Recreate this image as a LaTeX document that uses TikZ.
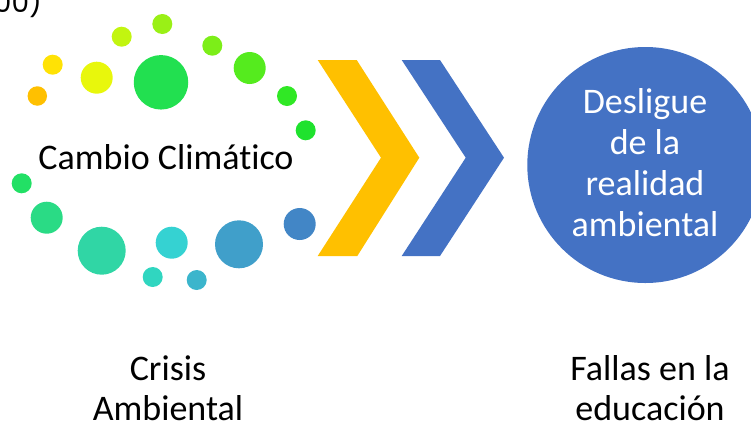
\documentclass[tikz,border=0pt]{standalone}
\usepackage{fontspec}
\setmainfont[Ligatures={NoCommon}]{Carlito}
\newfontfamily\numfont{Poppins}
\begin{document}
\begin{tikzpicture}[x=1pt,y=-1pt,
  dot/.style={circle,inner sep=0pt,draw=none},
  lbl/.style={font=\fontsize{36}{40}\selectfont,align=center,anchor=base,inner sep=0pt}]
\useasboundingbox (0,0) rectangle (751,429);
\clip (0,0) rectangle (751,429);
\definecolor{cA}{HTML}{FFC000}
\definecolor{cB}{HTML}{FFE205}
\definecolor{cC}{HTML}{E8F70C}
\definecolor{cD}{HTML}{C2F510}
\definecolor{cE}{HTML}{9AF016}
\definecolor{cF}{HTML}{22E050}
\definecolor{cG}{HTML}{7CEE18}
\definecolor{cH}{HTML}{55EB1E}
\definecolor{cI}{HTML}{30E825}
\definecolor{cJ}{HTML}{1FE22E}
\definecolor{cK}{HTML}{22E065}
\definecolor{cL}{HTML}{2ADB85}
\definecolor{cM}{HTML}{30D6A5}
\definecolor{cN}{HTML}{30D6C0}
\definecolor{cO}{HTML}{35D2D2}
\definecolor{cP}{HTML}{3BB5CC}
\definecolor{cQ}{HTML}{409FCA}
\definecolor{cR}{HTML}{4286C6}
\definecolor{chevY}{HTML}{FFC000}
\definecolor{chevB}{HTML}{4472C4}
% partial text at top-left
\node[font=\numfont\fontsize{28}{30}\selectfont,anchor=base east,inner sep=0pt] (cite) at (42,12) {00)};
% dots
\node[dot,fill=cA,minimum size=19.5pt] (d1) at (37.3,96) {};
\node[dot,fill=cB,minimum size=20pt] (d2) at (52.7,64.7) {};
\node[dot,fill=cC,minimum size=32pt] (d3) at (96.7,77.7) {};
\node[dot,fill=cD,minimum size=20pt] (d4) at (121.7,36.7) {};
\node[dot,fill=cE,minimum size=20pt] (d5) at (162.3,24) {};
\node[dot,fill=cF,minimum size=54.5pt] (d6) at (161,82.3) {};
\node[dot,fill=cG,minimum size=20pt] (d7) at (212.3,45.7) {};
\node[dot,fill=cH,minimum size=32pt] (d8) at (249.7,68) {};
\node[dot,fill=cI,minimum size=20pt] (d9) at (287,96) {};
\node[dot,fill=cJ,minimum size=20pt] (d10) at (305.7,130.3) {};
\node[dot,fill=cK,minimum size=20pt] (d11) at (21.7,183.3) {};
\node[dot,fill=cL,minimum size=32pt] (d12) at (46.7,217.7) {};
\node[dot,fill=cM,minimum size=48pt] (d13) at (101.7,250.7) {};
\node[dot,fill=cN,minimum size=20pt] (d14) at (152.7,277) {};
\node[dot,fill=cO,minimum size=32pt] (d15) at (171.7,242.7) {};
\node[dot,fill=cP,minimum size=20pt] (d16) at (196.7,280) {};
\node[dot,fill=cQ,minimum size=48pt] (d17) at (239,244.3) {};
\node[dot,fill=cR,minimum size=32pt] (d18) at (299.7,224) {};
% chevrons
\fill[chevY] (317.7,60) -- (356.7,60) -- (419.3,157.7) -- (357.3,256) -- (317.7,256) -- (381,157.7) -- cycle;
\fill[chevB] (401.7,60) -- (440,60) -- (504,157.7) -- (440,256) -- (401.7,256) -- (465.7,157.7) -- cycle;
% big circle
\node[dot,fill=chevB,minimum size=236pt] (big) at (645.3,165) {};
\node[lbl,text=white,font=\fontsize{36}{41}\selectfont] (bigtxt) at (645,236.7) {Desligue\\de la\\realidad\\ambiental};
% labels
\node[lbl] (cc) at (166,169.3) {Cambio Climático};
\node[lbl] (crisis) at (168,420) {Crisis\\Ambiental};
\node[lbl] (fallas) at (650,420) {Fallas en la\\educación};
\end{tikzpicture}
\end{document}
